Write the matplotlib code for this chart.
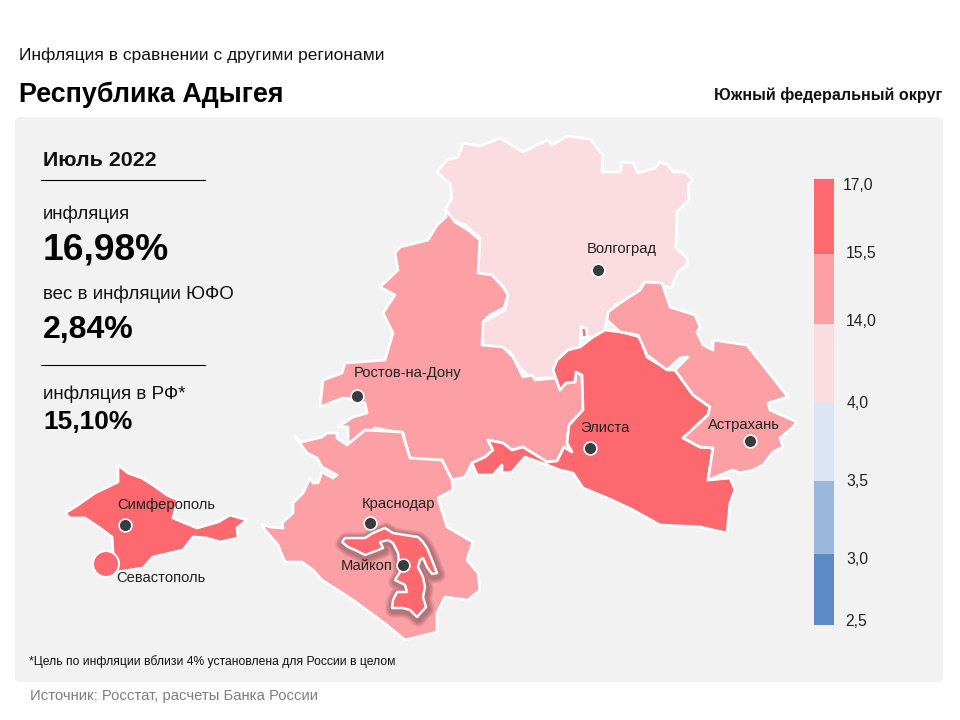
import matplotlib
matplotlib.use('Agg')
import matplotlib.pyplot as plt
from matplotlib.patches import FancyBboxPatch, Polygon, Circle

plt.rcParams['font.family'] = ['Liberation Sans', 'DejaVu Sans']

RED = '#fd696e'
PINK = '#fca0a5'
LIGHT = '#fadce1'

# region outlines (x, y in picture pixels)
volgograd = [(437,172),(447,160),(458,157),(463,143),(480,146),(500,138),(523,152),(537,145),(548,140),(552,145),
             (567,136),(590,139),(603,155),(602,172),(620,172),(622,162),(633,163),(638,173),(655,168),(660,162),
             (668,165),(673,172),(685,172),(693,180),(688,185),(689,200),(677,212),(676,248),(687,258),(687,265),
             (678,272),(671,288),(650,282),(643,285),(633,298),(615,305),(607,320),(605,330),(593,337),(587,337),
             (586,328),(581,327),(580,347),(568,350),(567,358),(557,363),(553,370),(557,378),(540,378),(533,380),
             (520,368),(510,352),(483,345),(482,330),(483,322),(505,310),(508,295),(502,285),(490,275),(477,275),
             (478,243),(480,238),(465,225),(453,220),(445,210),(452,198),(450,183),(443,178)]
rostov = [(446,210),(455,222),(468,230),(480,240),(478,273),(492,275),(503,287),(508,295),(504,308),(490,315),
          (483,322),(482,345),(503,347),(513,357),(523,377),(532,375),(535,380),(557,378),(560,390),(566,383),
          (575,382),(576,372),(582,375),(583,410),(569,425),(567,443),(572,452),(564,447),(557,461),(547,462),
          (523,447),(512,450),(503,443),(488,440),(493,450),(485,457),(472,463),(465,477),(452,480),(442,460),
          (410,460),(403,433),(375,428),(363,438),(348,443),(348,427),(338,427),(353,417),(367,413),(365,403),
          (357,400),(343,398),(320,407),(323,380),(342,373),(345,363),(385,360),(393,333),(383,313),(395,295),
          (380,287),(398,270),(395,253),(400,247),(428,240),(437,225),(446,217)]
krasnodar = [(295,437),(302,442),(322,437),(327,433),(337,433),(337,438),(347,445),(365,430),(402,432),(410,458),
             (442,460),(452,480),(453,490),(438,498),(447,527),(473,542),(467,560),(478,573),(480,590),(468,600),
             (445,597),(437,613),(437,632),(405,640),(383,622),(353,600),(322,580),(313,570),(302,562),(285,562),
             (278,545),(265,530),(262,524),(270,527),(283,528),(282,523),(293,513),(293,503),(303,493),(310,478),
             (313,483),(318,483),(322,472),(333,478),(337,475),(322,467),(317,458),(307,453)]
adygea = [(342,542),(345,538),(355,538),(365,538),(373,533),(385,528),(393,533),(405,535),(418,537),(423,542),
          (427,548),(432,560),(437,573),(432,574),(427,567),(423,558),(420,560),(418,567),(423,577),(425,587),
          (423,597),(426,607),(417,617),(410,610),(403,608),(392,608),(393,600),(397,592),(407,592),(405,585),
          (395,580),(400,572),(398,553),(393,543),(388,540),(380,542),(383,548),(373,552),(365,555),(355,550),
          (348,547)]
kalmykia = [(553,370),(557,360),(568,350),(580,347),(593,337),(605,330),(622,332),(640,337),(647,357),(668,370),
            (675,370),(693,395),(710,407),(708,415),(683,438),(700,447),(713,448),(708,480),(730,478),(735,490),
            (730,503),(727,533),(700,527),(660,525),(633,510),(612,500),(583,488),(573,473),(560,470),(547,465),
            (525,457),(512,472),(502,473),(502,465),(493,475),(477,475),(472,463),(485,457),(493,450),(488,440),
            (503,443),(512,450),(523,447),(547,462),(557,461),(564,447),(572,452),(567,443),(569,425),(583,410),
            (582,375),(576,372),(575,382),(566,383),(560,390)]
kalmykia_tab = [(581,327),(586,328),(587,337),(582,338)]
astrakhan = [(645,282),(662,283),(670,307),(695,315),(700,327),(697,332),(703,345),(713,350),(713,340),(747,345),
             (788,397),(768,403),(770,410),(797,422),(792,428),(780,438),(783,447),(773,452),(763,465),(753,470),
             (740,473),(733,470),(708,480),(713,448),(700,447),(683,438),(708,415),(710,407),(693,395),
             (675,370),(688,357),(680,358),(667,370),(647,355),(638,335),(620,332),(607,320),(608,312),(620,303),
             (640,290)]
crimea = [(65,513),(75,507),(95,493),(118,482),(118,465),(128,473),(142,478),(153,485),(167,495),(178,500),
          (173,518),(197,528),(218,522),(230,515),(247,520),(237,528),(238,538),(220,542),(207,538),(193,537),
          (183,550),(153,557),(143,568),(117,572),(113,553),(112,537),(100,528),(85,518),(70,518)]

regions = [volgograd, rostov, krasnodar, kalmykia, kalmykia_tab, astrakhan, crimea]
region_colors = [LIGHT, PINK, PINK, RED, RED, PINK, RED]

cities = ['Волгоград', 'Ростов-на-Дону', 'Элиста', 'Астрахань', 'Краснодар', 'Майкоп', 'Симферополь']
city_x = [598, 357, 590, 750, 370, 403, 125]
city_y = [270, 396, 448, 441, 523, 565, 525]
label_x = [587, 354, 580, 708, 362, 341, 117]
label_y = [249, 373, 428, 425, 504, 566, 505]

scale_labels = ['17,0', '15,5', '14,0', '4,0', '3,5', '3,0', '2,5']
scale_colors = [RED, PINK, LIGHT, '#dbe5f3', '#9ab8dc', '#5b8ac5']
scale_edges = [179, 254, 324, 403, 481, 554, 625]

fig = plt.figure(figsize=(9.6, 7.2), dpi=100)
ax = fig.add_axes([0, 0, 1, 1])
ax.set_xlim(0, 960)
ax.set_ylim(720, 0)
ax.axis('off')

ax.add_patch(FancyBboxPatch((18, 120), 922, 559, boxstyle='round,pad=3,rounding_size=5',
                            fc='#f2f2f2', ec='none'))

for pts, col in zip(regions, region_colors):
    ax.add_patch(Polygon(pts, closed=True, fc=col, ec='white', lw=2, joinstyle='round', zorder=2))

# Adygea on top, with a soft dark shadow
shadow = [(x + 1, y + 2) for x, y in adygea]
for lw in [11, 9, 7, 5]:
    ax.add_patch(Polygon(shadow, closed=True, fc='none', ec='#5a3a40', alpha=0.13, lw=lw,
                         joinstyle='round', zorder=3))
ax.add_patch(Polygon(adygea, closed=True, fc=RED, ec='white', lw=1.8, joinstyle='round', zorder=4))

# Sevastopol is drawn as a bubble
ax.add_patch(Circle((106, 564), 13, fc=RED, ec='white', lw=1.5, zorder=4))
ax.text(116, 578, 'Севастополь', fontsize=10.6, color='#222222', va='center', zorder=6)

ax.scatter(city_x, city_y, s=85, c='#3c3c3e', edgecolors='white', linewidths=1.2, zorder=5)
for name, x, y in zip(cities, label_x, label_y):
    ax.text(x, y, name, fontsize=10.6, color='#222222', va='center', zorder=6)

# colour scale
for i, col in enumerate(scale_colors):
    ax.bar(824, scale_edges[i + 1] - scale_edges[i], width=20, bottom=scale_edges[i], color=col, zorder=2)
scale_label_x = [843, 846, 846, 847, 846, 846, 845]
scale_label_y = [186, 253, 322, 404, 482, 559, 622]
for lab, x, y in zip(scale_labels, scale_label_x, scale_label_y):
    ax.text(x, y, lab, fontsize=11.3, color='#222222', va='center')

# header
ax.text(19, 55, 'Инфляция в сравнении с другими регионами', fontsize=12.5, color='#111111', va='center')
ax.text(19, 95, 'Республика Адыгея', fontsize=19.4, fontweight='bold', color='black', va='center')
ax.text(942, 95, 'Южный федеральный округ', fontsize=11.6, fontweight='bold', color='#111111',
        va='center', ha='right')

# left panel
ax.text(43, 161, 'Июль 2022', fontsize=15.4, fontweight='bold', color='#111111', va='center')
ax.plot([41, 205], [180, 180], color='black', lw=0.8)
ax.text(43, 214, 'инфляция', fontsize=13.4, color='#111111', va='center')
ax.text(43, 250, '16,98%', fontsize=26.8, fontweight='bold', color='black', va='center')
ax.text(43, 294, 'вес в инфляции ЮФО', fontsize=13.5, color='#111111', va='center')
ax.text(43, 330, '2,84%', fontsize=23, fontweight='bold', color='black', va='center')
ax.plot([41, 205], [365, 365], color='black', lw=0.8)
ax.text(43, 394, 'инфляция в РФ*', fontsize=13.6, color='#111111', va='center')
ax.text(43, 422, '15,10%', fontsize=19, fontweight='bold', color='black', va='center')

ax.text(29, 662, '*Цель по инфляции вблизи 4% установлена для России в целом', fontsize=8.7,
        color='#111111', va='center')
ax.text(30, 696, 'Источник: Росстат, расчеты Банка России', fontsize=10.7, color='#7f7f7f', va='center')

fig.savefig('out.png', dpi=100)
